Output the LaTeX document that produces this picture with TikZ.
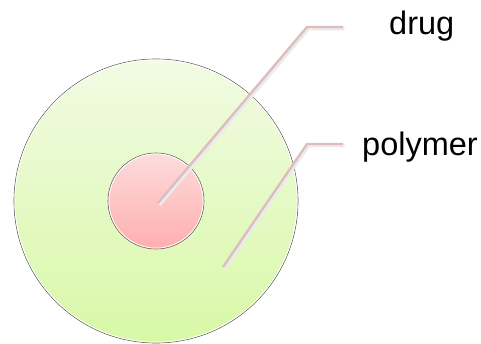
\documentclass[tikz,border=0pt]{standalone}
\usepackage{fontspec}
\setmainfont{Liberation Sans}
\definecolor{polytop}{HTML}{F2FBE4}
\definecolor{polybot}{HTML}{D8F8A6}
\definecolor{drugtop}{HTML}{FDDCDC}
\definecolor{drugbot}{HTML}{FFAEAE}
\definecolor{rimcol}{HTML}{5A5A5A}
\definecolor{leadcol}{HTML}{DDBDBD}
\tikzset{
  rim/.style={draw=rimcol,line width=0.6pt},
  leader/.style={draw=leadcol,line width=2.4pt,line join=round},
  leadshadow/.style={draw=black!8,line width=3pt,line join=round},
  lbl/.style={anchor=base west,inner sep=0pt,font=\fontsize{32.5}{36}\selectfont}
}
\begin{document}
\begin{tikzpicture}[x=1pt,y=1pt]
    \useasboundingbox (0,0) rectangle (481,343);
    % parameters
    \def\R{142}
    \def\r{48}
    \coordinate (O) at (156,142);

    % polymer shell
    \shade[top color=polytop,bottom color=polybot] (O) circle (\R);
    \draw[rim] (O) circle (\R);
    \draw[white,line width=0.8pt] (O) circle (\R-0.9);

    % drug core
    \shade[top color=drugtop,bottom color=drugbot] (O) circle (\r);
    \draw[rim] (O) circle (\r);
    \draw[white,line width=0.8pt] (O) circle (\r-0.9);

    % leader ends
    \coordinate (drugtip) at (158,140);
    \coordinate (drugbend) at (307,316);
    \coordinate (drugend) at (343,316);
    \coordinate (polytip) at (223,76);
    \coordinate (polybend) at (307,199);
    \coordinate (polyend) at (343,199);

    % leader lines
    \draw[leadshadow] ([shift={(1.5,-2)}]drugtip) -- ([shift={(1.5,-2)}]drugbend) -- ([shift={(1.5,-2)}]drugend);
    \draw[leadshadow] ([shift={(1.5,-2)}]polytip) -- ([shift={(1.5,-2)}]polybend) -- ([shift={(1.5,-2)}]polyend);
    \draw[leader] (drugtip) -- (drugbend) -- (drugend);
    \draw[leader] (polytip) -- (polybend) -- (polyend);

    % labels
    \node[lbl] (druglbl) at (389,308) {drug};
    \node[lbl] (polylbl) at (362,188) {polymer};
\end{tikzpicture}
\end{document}
